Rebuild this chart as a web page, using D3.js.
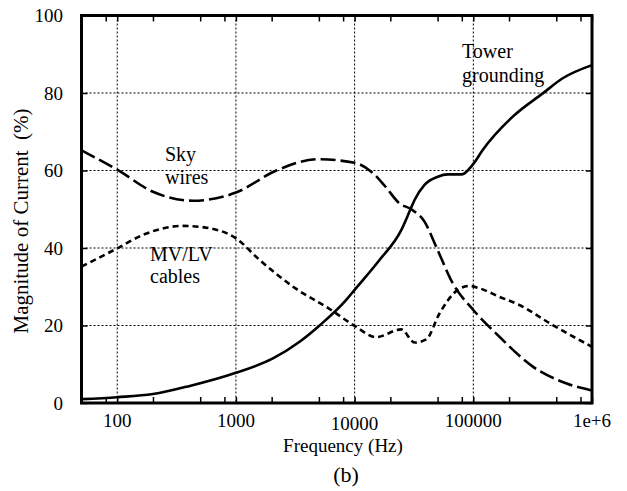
<!DOCTYPE html>
<html>
<head>
<meta charset="utf-8">
<script src="https://cdn.jsdelivr.net/npm/d3@7/dist/d3.min.js"></script>
<style>
  html, body { margin: 0; padding: 0; background: #fff; }
  svg { display: block; }
</style>
</head>
<body>
<svg id="chart" width="627" height="491"></svg>
<script>
// Share of lightning current per path versus frequency
const freqSky   = [50, 100, 200, 435, 1000, 2190, 4900, 10000, 13800, 18000, 23900, 30000, 38800, 48700, 67100, 100000, 166000, 317000, 604000, 1000000];
const skyWires  = [65.2, 60.2, 54.5, 52.2, 54.3, 60.0, 62.9, 62.0, 59.7, 56.0, 51.5, 50.0, 46.8, 40.3, 30.9, 24.0, 17.1, 9.4, 5.1, 3.2];

const freqTower = [50, 100, 200, 408, 1000, 2050, 3440, 5070, 8500, 10000, 16200, 24700, 29000, 32000, 38800, 50200, 61000, 80000, 100000, 120000, 215000, 385000, 566000, 1000000];
const towerGround = [1.0, 1.5, 2.3, 4.4, 7.8, 11.5, 15.8, 20.0, 26.6, 29.2, 36.9, 44.6, 49.4, 52.4, 56.3, 58.4, 59.0, 59.0, 61.7, 65.3, 73.9, 79.9, 83.8, 87.2];

const freqCable = [50, 100, 165, 358, 601, 1000, 1585, 3200, 6000, 10000, 15200, 24700, 32000, 40100, 51900, 74000, 92900, 112700, 166000, 244000, 467000, 1000000];
const mvlvCables = [35.2, 39.9, 43.4, 45.7, 45.1, 42.5, 36.9, 29.5, 24.5, 19.9, 17.0, 19.0, 15.6, 16.4, 23.1, 29.2, 30.2, 29.6, 27.4, 25.3, 20.1, 14.5];

const xTickValues = [100, 1000, 10000, 100000, 1000000];
const xTickLabels = ["100", "1000", "10000", "100000", "1e+6"];
const yTickValues = [0, 20, 40, 60, 80, 100];
const xGridValues = [100, 1000, 10000, 100000];
const yGridValues = [20, 40, 60, 80];

const svg = d3.select("#chart");
const font = '"Liberation Serif", "Times New Roman", Times, "DejaVu Serif", serif';
const plotLeft = 81.5, plotRight = 592, plotTop = 15.5, plotBottom = 403;

const x = d3.scaleLog().domain([50, 1000000]).range([plotLeft, plotRight]);
const y = d3.scaleLinear().domain([0, 100]).range([plotBottom, plotTop]);

// dotted grid
svg.append("g").selectAll("line").data(xGridValues).join("line")
  .attr("x1", d => x(d)).attr("x2", d => x(d))
  .attr("y1", plotTop).attr("y2", plotBottom)
  .attr("stroke", "#000").attr("stroke-width", 1).attr("stroke-dasharray", "2,2");
svg.append("g").selectAll("line").data(yGridValues).join("line")
  .attr("x1", plotLeft).attr("x2", plotRight)
  .attr("y1", d => y(d)).attr("y2", d => y(d))
  .attr("stroke", "#000").attr("stroke-width", 1).attr("stroke-dasharray", "2,2");

// minor ticks at 2, 5, 8 of each decade, inward on bottom and top
const minor = [];
for (let p = 1; p <= 5; p++) [2, 5, 8].forEach(m => { const v = m * Math.pow(10, p); if (v > 50 && v < 1000000) minor.push(v); });
const allXTicks = minor.concat(xTickValues);

const xb = svg.append("g").attr("transform", `translate(0,${plotBottom})`)
  .call(d3.axisBottom(x).tickValues(allXTicks).tickSize(-6).tickFormat(""));
const xt = svg.append("g").attr("transform", `translate(0,${plotTop})`)
  .call(d3.axisTop(x).tickValues(allXTicks).tickSize(-6).tickFormat(""));
const yl = svg.append("g").attr("transform", `translate(${plotLeft},0)`)
  .call(d3.axisLeft(y).tickValues(yTickValues).tickSize(-6).tickFormat(""));
const yr = svg.append("g").attr("transform", `translate(${plotRight},0)`)
  .call(d3.axisRight(y).tickValues(yTickValues).tickSize(-6).tickFormat(""));
[xb, xt, yl, yr].forEach(g => {
  g.select(".domain").remove();
  g.selectAll(".tick line").attr("stroke", "#000").attr("stroke-width", 1.5);
});

// curves
const line = d3.line().x(d => x(d[0])).y(d => y(d[1])).curve(d3.curveMonotoneX);
const series = [
  { f: freqTower, v: towerGround, dash: null },
  { f: freqSky, v: skyWires, dash: "15,5" },
  { f: freqCable, v: mvlvCables, dash: "6,4" }
];
series.forEach(s => {
  svg.append("path")
    .datum(s.f.map((f, i) => [f, s.v[i]]))
    .attr("d", line)
    .attr("fill", "none")
    .attr("stroke", "#000")
    .attr("stroke-width", 2.6)
    .attr("stroke-dasharray", s.dash);
});

// frame
svg.append("rect")
  .attr("x", plotLeft).attr("y", plotTop)
  .attr("width", plotRight - plotLeft).attr("height", plotBottom - plotTop)
  .attr("fill", "none").attr("stroke", "#000").attr("stroke-width", 3);

// tick labels
svg.append("g").selectAll("text").data(xTickValues).join("text")
  .attr("x", d => x(d))
  .attr("y", (d, i) => xTickLabels[i] === "10000" ? 430 : 427)
  .attr("text-anchor", "middle")
  .attr("font-family", font)
  .attr("font-size", 19)
  .text((d, i) => xTickLabels[i]);
svg.append("g").selectAll("text").data(yTickValues).join("text")
  .attr("x", 63)
  .attr("y", d => y(d))
  .attr("dy", "0.35em")
  .attr("text-anchor", "end")
  .attr("font-family", font)
  .attr("font-size", 19)
  .text(d => d);

// axis titles
svg.append("text").attr("x", 343).attr("y", 452).attr("text-anchor", "middle")
  .attr("font-family", font).attr("font-size", 19).text("Frequency (Hz)");
svg.append("text").attr("x", 346).attr("y", 482).attr("text-anchor", "middle")
  .attr("font-family", font).attr("font-size", 22).text("(b)");
svg.append("text")
  .attr("transform", "translate(28,221) rotate(-90)")
  .attr("text-anchor", "middle")
  .attr("font-family", font)
  .attr("font-size", 21)
  .style("white-space", "pre")
  .text("Magnitude of Current  (%)");

// curve labels
const notes = [
  { t: "Sky", x: 165, y: 161 }, { t: "wires", x: 165, y: 184 },
  { t: "MV/LV", x: 150, y: 261 }, { t: "cables", x: 150, y: 283 },
  { t: "Tower", x: 462, y: 58 }, { t: "grounding", x: 462, y: 82 }
];
svg.append("g").selectAll("text").data(notes).join("text")
  .attr("x", d => d.x).attr("y", d => d.y)
  .attr("font-family", font)
  .attr("font-size", 20)
  .text(d => d.t);
</script>
</body>
</html>
